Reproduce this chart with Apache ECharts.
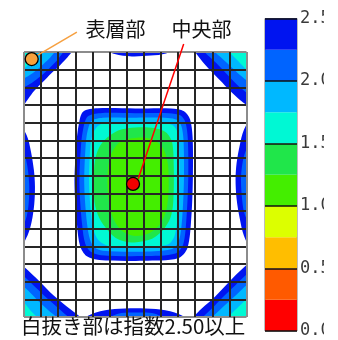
<!DOCTYPE html>
<html>
<head>
<meta charset="utf-8">
<script src="https://cdn.jsdelivr.net/npm/echarts@6/dist/echarts.min.js"></script>
<style>
  html, body { margin: 0; padding: 0; background: #fff; }
  #chart { width: 338px; height: 340px; }
</style>
</head>
<body>
<div id="chart"></div>
<script>
// Mesh size of the cross-section (cells)
const COLS = 13;
const ROWS = 15;

// Index band edges of the colour scale
const BAND_LEVELS = [0, 0.25, 0.5, 0.75, 1.0, 1.25, 1.5, 1.75, 2.0, 2.25, 2.5];
const BAND_COLORS = ['#ff0000', '#ff5a00', '#ffbe00', '#dcff00', '#44ee00',
                     '#20e64a', '#00f8d4', '#00b8ff', '#0064ff', '#0014f0'];

// Iso-lines of the index, in cell units (x to the right, y downwards).
// Each entry: [upper level of the enclosed band, closed ring].
const cornerTopLeft = [
  [2.5,  [[-0.6,-0.6],[3.15,-0.35],[2.8,0],[2.45,0.4],[2.05,0.8],[1.6,1.2],[1.1,1.7],[0.6,2.2],[0.25,2.65],[0,3.0],[-0.3,3.4],[-0.6,3.4]]],
  [2.25, [[-0.6,-0.6],[2.6,-0.35],[2.3,0],[1.95,0.45],[1.5,0.9],[1.0,1.35],[0.45,1.75],[0,2.0],[-0.4,2.25]]],
  [2.0,  [[-0.6,-0.6],[2.05,-0.3],[1.8,0],[1.45,0.4],[1.0,0.8],[0.5,1.2],[0,1.5],[-0.4,1.75]]],
  [1.75, [[-0.6,-0.6],[1.0,-0.3],[0.8,0],[0.5,0.4],[0.2,0.75],[0,0.95],[-0.3,1.2]]]
];
const cornerTopRight = [
  [2.5,  [[13.6,-0.6],[13.6,3.4],[13.3,3.3],[13,3.0],[12.6,2.7],[12.0,2.15],[11.45,1.6],[10.85,1.0],[10.35,0.45],[10.0,0],[9.8,-0.35]]],
  [2.25, [[13.6,-0.6],[13.4,2.6],[13,2.3],[12.45,1.85],[11.8,1.2],[11.2,0.6],[10.55,0],[10.3,-0.35]]],
  [2.0,  [[13.6,-0.6],[13.4,1.85],[13,1.6],[12.5,1.2],[12.0,0.75],[11.5,0.3],[11.15,0],[10.9,-0.35]]],
  [1.75, [[13.6,-0.6],[13.4,1.25],[13,1.0],[12.5,0.5],[12.0,0],[11.75,-0.35]]]
];
const cornerBottomLeft = [
  [2.5,  [[-0.6,15.6],[-0.4,11.9],[0,12.15],[0.93,13.0],[1.7,13.75],[2.5,14.4],[3.3,15],[3.6,15.3]]],
  [2.25, [[-0.6,15.6],[-0.4,12.45],[0,12.7],[0.7,13.35],[1.3,13.9],[2.0,14.5],[2.6,15],[2.9,15.3]]],
  [2.0,  [[-0.6,15.6],[-0.4,13.1],[0,13.3],[0.5,13.75],[0.95,14.2],[1.45,14.65],[1.9,15],[2.2,15.3]]],
  [1.75, [[-0.6,15.6],[-0.35,14.0],[0,14.2],[0.35,14.6],[0.75,15],[1.0,15.3]]]
];
const cornerBottomRight = [
  [2.5,  [[13.6,15.6],[9.55,15.3],[9.87,15],[10.4,14.5],[11.0,14.0],[11.7,13.3],[12.4,12.6],[13,12.05],[13.4,11.7]]],
  [2.25, [[13.6,15.6],[10.15,15.3],[10.45,15],[11.1,14.4],[11.7,13.8],[12.35,13.2],[13,12.6],[13.4,12.3]]],
  [2.0,  [[13.6,15.6],[10.7,15.3],[11.0,15],[11.5,14.55],[12.0,14.1],[12.5,13.65],[13,13.2],[13.4,12.9]]],
  [1.75, [[13.6,15.6],[11.6,15.3],[11.9,15],[12.45,14.5],[13,14.0],[13.4,13.7]]]
];
const edgeLeft = [
  [2.5,  [[-0.4,4.0],[0.15,4.7],[0.4,5.6],[0.58,6.7],[0.64,7.6],[0.6,8.6],[0.45,9.6],[0.2,10.4],[-0.4,11.3]]],
  [2.25, [[-0.3,5.2],[0.12,6.1],[0.3,7.4],[0.27,8.6],[0.1,9.5],[-0.3,10.2]]]
];
const edgeRight = [
  [2.5,  [[13.4,3.6],[12.85,4.4],[12.6,5.3],[12.42,6.3],[12.36,7.2],[12.42,8.3],[12.6,9.4],[12.85,10.4],[13.4,11.4]]],
  [2.25, [[13.3,5.0],[12.85,5.9],[12.68,7.1],[12.75,8.4],[12.9,9.2],[13.3,9.9]]]
];
const edgeTop = [
  [2.5,  [[4.5,-0.3],[5.3,0.12],[6.3,0.25],[7.4,0.2],[8.3,0.08],[9.0,-0.3]]]
];
const edgeBottom = [
  [2.5,  [[3.2,15.3],[4.2,14.75],[5.3,14.55],[6.5,14.5],[7.7,14.55],[8.8,14.75],[9.8,15.3]]],
  [2.25, [[4.6,15.3],[5.5,14.82],[6.6,14.75],[7.6,14.8],[8.6,15.3]]]
];
const core = [
  [2.5,  [[3.45,3.38],[4.3,3.19],[6.5,3.2],[8.6,3.2],[9.35,3.35],[9.7,3.8],[9.85,4.8],[9.87,7.0],[9.78,9.3],[9.55,11.1],[9.0,11.68],[7.0,11.82],[4.4,11.78],[3.65,11.55],[3.28,11.0],[3.1,9.8],[2.95,7.5],[3.05,5.3],[3.2,4.1]]],
  [2.25, [[3.72,3.65],[4.45,3.46],[6.5,3.47],[8.5,3.47],[9.15,3.6],[9.43,3.98],[9.57,4.9],[9.6,7.0],[9.5,9.3],[9.3,10.9],[8.85,11.4],[7.0,11.55],[4.5,11.5],[3.9,11.3],[3.58,10.85],[3.4,9.8],[3.24,7.5],[3.33,5.3],[3.47,4.3]]],
  [2.0,  [[3.95,3.9],[4.6,3.72],[6.5,3.72],[8.4,3.73],[8.95,3.85],[9.2,4.2],[9.32,5.0],[9.35,7.0],[9.25,9.3],[9.05,10.7],[8.65,11.15],[7.0,11.3],[4.6,11.25],[4.1,11.05],[3.85,10.6],[3.68,9.7],[3.52,7.5],[3.6,5.3],[3.72,4.45]]],
  [1.75, [[4.3,4.2],[4.9,3.98],[6.5,3.98],[8.2,4.0],[8.7,4.15],[8.95,4.5],[9.05,5.2],[9.08,7.0],[8.98,9.2],[8.8,10.4],[8.4,10.9],[7.0,11.03],[5.0,11.0],[4.4,10.7],[4.1,10.2],[3.95,9.4],[3.8,7.5],[3.87,5.4],[4.0,4.7]]],
  [1.5,  [[5.5,4.45],[6.5,4.27],[7.6,4.3],[8.3,4.55],[8.65,5.1],[8.75,6.5],[8.72,8.5],[8.55,9.4],[8.1,10.1],[7.4,10.6],[6.3,10.78],[5.5,10.6],[4.9,10.1],[4.4,9.4],[4.12,8.5],[4.08,7.0],[4.2,5.9],[4.6,5.1]]],
  [1.25, [[6.6,4.85],[7.5,4.95],[8.1,5.4],[8.4,6.3],[8.45,7.8],[8.3,9.0],[7.9,9.8],[7.2,10.3],[6.4,10.4],[5.7,10.1],[5.2,9.4],[4.95,8.4],[4.88,7.0],[5.05,5.9],[5.6,5.1]]]
];

// Sampling points and their captions
const pointNames = ['表層部', '中央部'];
const pointCells = [[0.45, 0.40], [6.37, 7.47]];
const leaderFrom = [[0.8, 0.18], [6.67, 7.19]];
const leaderTo = [[3.09, -1.13], [9.33, -0.45]];
const captionAt = [[5.34, -1.30], [10.37, -1.30]];
const FOOTNOTE = '白抜き部は指数2.50以上';

// Paint order: each region from its outermost iso-line inwards
const fieldRings = [cornerTopLeft, cornerTopRight, cornerBottomLeft, cornerBottomRight,
                    edgeLeft, edgeRight, edgeTop, edgeBottom, core]
  .flatMap(region => region.map(([level, ring]) => ({ level, ring })));

function bandColor(upper) {
  return BAND_COLORS[Math.round(upper / 0.25) - 1];
}

const CJK_FONT = '"Noto Sans CJK JP", "Noto Sans", sans-serif';
const gridLineColors = (n) => ['#8c8c8c'].concat(new Array(n - 1).fill('#262626'));

const chart = echarts.init(document.getElementById('chart'), null, { renderer: 'canvas' });

chart.setOption({
  backgroundColor: '#ffffff',
  animation: false,
  title: {
    text: FOOTNOTE,
    left: 21,
    top: 316,
    padding: 0,
    textStyle: { fontFamily: CJK_FONT, fontSize: 20.5, fontWeight: 'normal', color: '#111' }
  },
  grid: [
    { left: 24, top: 52, width: 222.5, height: 265, show: false },
    { left: 265, top: 18.5, width: 32, height: 312.5, show: true,
      borderColor: '#7a7a7a', borderWidth: 1, backgroundColor: 'transparent' }
  ],
  xAxis: [
    { gridIndex: 0, type: 'value', min: 0, max: COLS, interval: 1, z: 5,
      axisLabel: { show: false }, axisTick: { show: false }, axisLine: { show: false },
      splitLine: { show: true, lineStyle: { color: gridLineColors(COLS), width: 2 } } },
    { gridIndex: 1, type: 'value', min: 0, max: 1, show: false }
  ],
  yAxis: [
    { gridIndex: 0, type: 'value', inverse: true, min: 0, max: ROWS, interval: 1, z: 5,
      axisLabel: { show: false }, axisTick: { show: false }, axisLine: { show: false },
      splitLine: { show: true, lineStyle: { color: gridLineColors(ROWS), width: 2 } } },
    { gridIndex: 1, type: 'value', min: 0, max: 2.5, interval: 0.5, position: 'right', z: 5,
      axisLine: { show: false }, axisTick: { show: false },
      axisLabel: { margin: 3, formatter: v => v.toFixed(1),
                   fontFamily: '"DejaVu Sans Mono", monospace', fontSize: 17, color: '#3a3a3a' },
      splitLine: { show: true, lineStyle: { color: '#111', width: 1.5 } } }
  ],
  graphic: [
    // right margin trims the scale labels
    { type: 'rect', shape: { x: 324, y: 0, width: 14, height: 340 }, style: { fill: '#fff' }, z: 100 }
  ],
  series: [
    {
      name: 'field',
      type: 'custom',
      xAxisIndex: 0, yAxisIndex: 0,
      clip: true,
      z: 2,
      data: fieldRings.map((r, i) => [i, 0]),
      renderItem: (params, api) => {
        const r = fieldRings[params.dataIndex];
        return {
          type: 'polygon',
          shape: { points: r.ring.map(p => api.coord(p)), smooth: 0.3 },
          style: { fill: bandColor(r.level), stroke: null }
        };
      }
    },
    {
      name: 'scale',
      type: 'custom',
      xAxisIndex: 1, yAxisIndex: 1,
      z: 2,
      data: BAND_LEVELS.slice(0, -1).map((lo, i) => [lo, BAND_LEVELS[i + 1]]),
      renderItem: (params, api) => {
        const p1 = api.coord([0, api.value(1)]);
        const p2 = api.coord([1, api.value(0)]);
        return {
          type: 'rect',
          shape: { x: p1[0], y: p1[1], width: p2[0] - p1[0], height: p2[1] - p1[1] },
          style: { fill: BAND_COLORS[params.dataIndex] }
        };
      }
    },
    {
      name: 'leaders',
      type: 'custom',
      xAxisIndex: 0, yAxisIndex: 0,
      clip: false,
      z: 8,
      data: pointNames.map((n, i) => [i, 0]),
      renderItem: (params, api) => {
        const i = params.dataIndex;
        const a = api.coord(leaderFrom[i]);
        const b = api.coord(leaderTo[i]);
        const c = api.coord(captionAt[i]);
        return {
          type: 'group',
          children: [
            { type: 'line', shape: { x1: a[0], y1: a[1], x2: b[0], y2: b[1] },
              style: { stroke: i === 0 ? '#f6a040' : '#ff0000', lineWidth: 1.5 } },
            { type: 'text', x: c[0], y: c[1],
              style: { text: pointNames[i], fontFamily: CJK_FONT, fontSize: 20,
                       fill: '#111', align: 'center', verticalAlign: 'middle' } }
          ]
        };
      }
    },
    {
      name: 'points',
      type: 'scatter',
      xAxisIndex: 0, yAxisIndex: 0,
      z: 10,
      symbolSize: 13,
      data: pointCells.map((p, i) => ({
        value: p,
        itemStyle: { color: i === 0 ? '#f7a03c' : '#f20000', borderColor: '#000',
                     borderWidth: 1.3, opacity: 1 }
      }))
    }
  ]
});
</script>
</body>
</html>
